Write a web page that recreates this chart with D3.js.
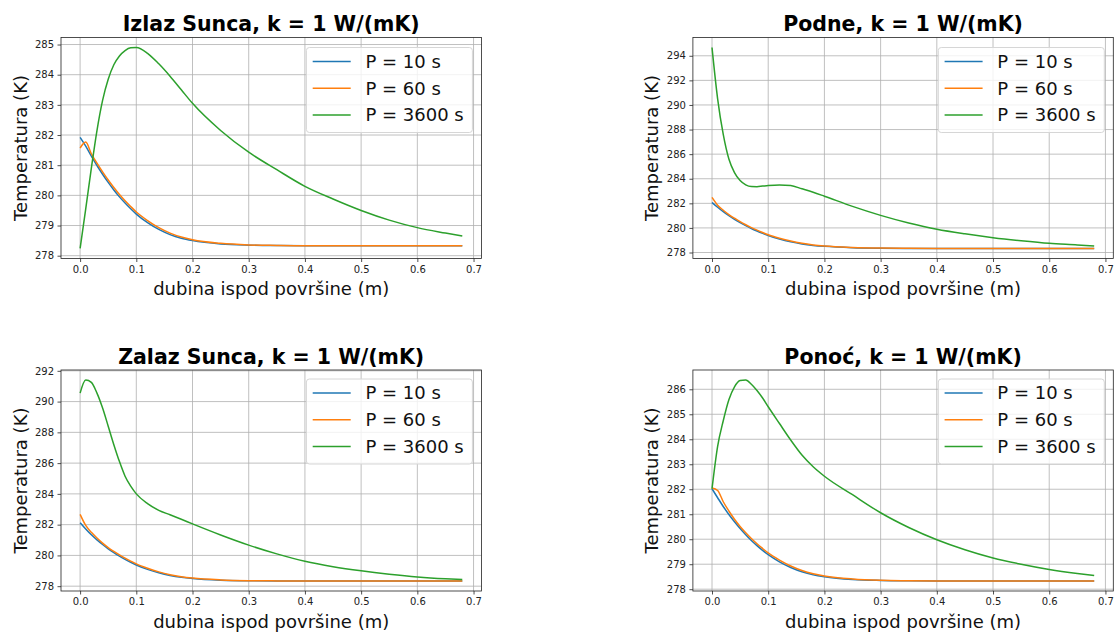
<!DOCTYPE html>
<html><head><meta charset="utf-8">
<script src="https://cdn.jsdelivr.net/npm/d3@7"></script>
<style>body{margin:0;background:#fff} svg{display:block} text{font-family:"DejaVu Sans",sans-serif}</style>
</head><body><svg id="c" width="1115" height="633"></svg>
<script>
// ---------- data ----------
const depth = [0,0.01,0.02,0.03,0.04,0.05,0.06,0.07,0.08,0.09,0.10,0.12,0.14,0.16,0.18,0.20,0.25,0.30,0.35,0.40,0.45,0.50,0.55,0.60,0.65,0.68];
const seriesNames = ["P = 10 s","P = 60 s","P = 3600 s"];
const xTicks = [0,0.1,0.2,0.3,0.4,0.5,0.6,0.7];

const izlaz10   = [281.92,281.63,281.30,280.99,280.70,280.43,280.18,279.95,279.745,279.555,279.38,279.095,278.87,278.70,278.58,278.50,278.39,278.35,278.335,278.33,278.33,278.33,278.33,278.33,278.33,278.33];
const izlaz60   = [281.57,281.77,281.38,281.07,280.78,280.51,280.26,280.03,279.82,279.63,279.45,279.165,278.93,278.75,278.62,278.53,278.41,278.357,278.34,278.33,278.33,278.33,278.33,278.33,278.33,278.33];
const izlaz3600 = [278.24,279.55,280.90,282.15,283.15,283.85,284.33,284.62,284.80,284.89,284.90,284.71,284.36,283.95,283.50,283.05,282.15,281.43,280.85,280.30,279.88,279.50,279.18,278.93,278.75,278.65];
const izlazTicks = [278,279,280,281,282,283,284,285];

const podne10   = [282.07,281.68,281.32,281.00,280.70,280.43,280.18,279.95,279.745,279.555,279.38,279.095,278.87,278.70,278.58,278.50,278.39,278.35,278.335,278.33,278.33,278.33,278.33,278.33,278.33,278.33];
const podne60   = [282.48,281.85,281.44,281.09,280.79,280.51,280.26,280.03,279.82,279.63,279.45,279.165,278.93,278.75,278.62,278.53,278.41,278.357,278.34,278.33,278.33,278.33,278.33,278.33,278.33,278.33];
const podne3600 = [294.67,290.50,287.60,285.60,284.50,283.85,283.50,283.36,283.35,283.40,283.45,283.50,283.45,283.18,282.90,282.58,281.75,281.02,280.40,279.89,279.52,279.21,278.96,278.75,278.62,278.53];
const podneTicks = [278,280,282,284,286,288,290,292,294];

const zalaz10   = [282.13,281.72,281.34,281.01,280.71,280.43,280.18,279.95,279.745,279.555,279.38,279.095,278.87,278.70,278.58,278.50,278.39,278.35,278.34,278.34,278.34,278.34,278.34,278.34,278.34,278.34];
const zalaz60   = [282.67,281.95,281.50,281.13,280.80,280.51,280.26,280.03,279.82,279.63,279.45,279.165,278.93,278.75,278.62,278.53,278.41,278.36,278.345,278.34,278.34,278.34,278.34,278.34,278.34,278.34];
const zalaz3600 = [290.55,291.40,291.25,290.55,289.58,288.40,287.20,286.10,285.15,284.50,284.00,283.37,282.93,282.64,282.35,282.05,281.33,280.67,280.10,279.62,279.27,279.00,278.78,278.60,278.48,278.43];
const zalazTicks = [278,280,282,284,286,288,290,292];

const ponoc10   = [282.02,281.66,281.31,280.99,280.70,280.43,280.18,279.95,279.745,279.555,279.38,279.095,278.87,278.70,278.58,278.50,278.39,278.35,278.335,278.33,278.33,278.33,278.33,278.33,278.33,278.33];
const ponoc60   = [282.05,281.95,281.50,281.13,280.80,280.51,280.26,280.03,279.82,279.63,279.45,279.165,278.93,278.75,278.62,278.53,278.41,278.357,278.34,278.33,278.33,278.33,278.33,278.33,278.33,278.33];
const ponoc3600 = [282.02,283.72,284.74,285.58,286.10,286.35,286.37,286.20,285.95,285.65,285.30,284.63,283.97,283.37,282.90,282.52,281.78,281.06,280.47,279.98,279.58,279.25,279.00,278.79,278.63,278.55];
const ponocTicks = [278,279,280,281,282,283,284,285,286];

const titles = ["Izlaz Sunca, k = 1 W/(mK)","Podne, k = 1 W/(mK)","Zalaz Sunca, k = 1 W/(mK)","Ponoć, k = 1 W/(mK)"];
const xLabel = "dubina ispod površine (m)";
const yLabel = "Temperatura (K)";

const panels = [
  {title:titles[0], series:[izlaz10,izlaz60,izlaz3600], yTicks:izlazTicks, col:0, row:0},
  {title:titles[1], series:[podne10,podne60,podne3600], yTicks:podneTicks, col:1, row:0},
  {title:titles[2], series:[zalaz10,zalaz60,zalaz3600], yTicks:zalazTicks, col:0, row:1},
  {title:titles[3], series:[ponoc10,ponoc60,ponoc3600], yTicks:ponocTicks, col:1, row:1}
];

// ---------- drawing ----------
const colors = ["#1f77b4","#ff7f0e","#2ca02c"];
const svg = d3.select("#c");
const colLeft = [61, 692.9], rowTop = [37.5, 370], pw = 420.4, ph = 221;
const FONT = "DejaVu Sans";
function padExt(e){ const r = e[1]-e[0]; return [e[0]-0.05*r, e[1]+0.05*r]; }

panels.forEach(p => {
  const x0 = colLeft[p.col], y0 = rowTop[p.row];
  const g = svg.append("g").attr("transform", `translate(${x0},${y0})`);
  const xs = d3.scaleLinear().domain(padExt(d3.extent(depth))).range([0, pw]);
  const ys = d3.scaleLinear().domain(padExt(d3.extent(p.series.flat()))).range([ph, 0]);

  // grid
  g.append("g").selectAll("line").data(xTicks).join("line")
    .attr("x1", d => xs(d)).attr("x2", d => xs(d)).attr("y1", 0).attr("y2", ph)
    .attr("stroke", "#b0b0b0").attr("stroke-width", 0.8);
  g.append("g").selectAll("line").data(p.yTicks).join("line")
    .attr("y1", d => ys(d)).attr("y2", d => ys(d)).attr("x1", 0).attr("x2", pw)
    .attr("stroke", "#b0b0b0").attr("stroke-width", 0.8);

  // series
  const line = d3.line().x((d, i) => xs(depth[i])).y(d => ys(d)).curve(d3.curveMonotoneX);
  p.series.forEach((s, i) => {
    g.append("path").datum(s).attr("d", line).attr("fill", "none")
      .attr("stroke", colors[i]).attr("stroke-width", 1.5);
  });

  // axes
  const xa = g.append("g").attr("transform", `translate(0,${ph})`)
    .call(d3.axisBottom(xs).tickValues(xTicks).tickFormat(d3.format(".1f")).tickSize(3.5).tickPadding(3.5));
  const ya = g.append("g")
    .call(d3.axisLeft(ys).tickValues(p.yTicks).tickFormat(d3.format("d")).tickSize(3.5).tickPadding(3.5));
  [xa, ya].forEach(a => {
    a.select(".domain").remove();
    a.attr("font-family", FONT).attr("font-size", 10);
    a.selectAll("text").attr("fill", "#222");
    a.selectAll("line").attr("stroke", "#222").attr("stroke-width", 0.8);
  });

  // frame
  g.append("rect").attr("x", 0).attr("y", 0).attr("width", pw).attr("height", ph)
    .attr("fill", "none").attr("stroke", "#222").attr("stroke-width", 0.8);

  // legend
  const lw = 166, lh = 85, lx = pw - 9 - lw, ly = p.row === 0 ? 10 : 9;
  const lg = g.append("g").attr("transform", `translate(${lx},${ly})`);
  lg.append("rect").attr("width", lw).attr("height", lh).attr("rx", 3)
    .attr("fill", "#fff").attr("fill-opacity", 0.8).attr("stroke", "#d6d6d6").attr("stroke-width", 1);
  seriesNames.forEach((n, i) => {
    const cy = 14 + i * 26.7;
    lg.append("line").attr("x1", 6.3).attr("x2", 44.3).attr("y1", cy).attr("y2", cy)
      .attr("stroke", colors[i]).attr("stroke-width", 1.5);
    lg.append("text").attr("x", 59).attr("y", cy).attr("dy", "0.36em")
      .attr("font-size", 18).attr("fill", "#111").text(n);
  });

  // title & labels
  g.append("text").attr("x", pw / 2).attr("y", -6.5).attr("text-anchor", "middle")
    .attr("font-size", 20.5).attr("font-weight", "bold").attr("fill", "#000").text(p.title);
  g.append("text").attr("x", pw / 2).attr("y", ph + 36.5).attr("text-anchor", "middle")
    .attr("font-size", 18).attr("fill", "#111").text(xLabel);
  g.append("text").attr("transform", `translate(-34.5,${ph / 2}) rotate(-90)`).attr("text-anchor", "middle")
    .attr("font-size", 18).attr("fill", "#111").text(yLabel);
});
</script>
</body></html>
